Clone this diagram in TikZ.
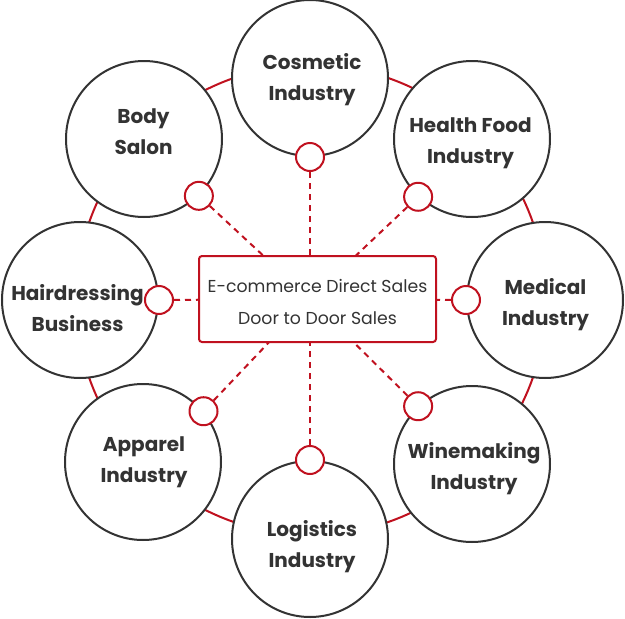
\documentclass[tikz,border=0pt]{standalone}
\usepackage{fontspec}
\setmainfont{Poppins}
\usepackage{xcolor}
\usepackage{tikz}
\usetikzlibrary{positioning}
\definecolor{brickred}{HTML}{C0111F}
\definecolor{inkgray}{HTML}{333333}

\begin{document}
\begin{tikzpicture}[x=1pt, y=-1pt,
        sector/.style={draw=inkgray, line width=2pt, circle, fill=white, minimum size=156pt, inner sep=0pt},
        caption/.style={align=center, text=inkgray, inner sep=0pt, font=\fontsize{20}{31}\selectfont\bfseries},
        dot/.style={draw=brickred, line width=2pt, circle, fill=white, minimum size=28pt, inner sep=0pt},
        link/.style={draw=brickred, line width=2pt, dash pattern=on 6pt off 5pt}]
        \useasboundingbox (0,0) rectangle (625,619);

        % ring behind the circles
        \draw[brickred, line width=2pt] (311,300) circle [radius=235];

        \node (cosmetic) [sector] at (310,78) {};
        \node (health) [sector] at (472,139) {};
        \node (medical) [sector] at (545,300) {};
        \node (wine) [sector] at (472,464) {};
        \node (logistics) [sector] at (310,539) {};
        \node (apparel) [sector] at (143,462) {};
        \node (hair) [sector] at (80,300) {};
        \node (body) [sector] at (144,139) {};

        \node (cosmetictext) [caption] at (312,79.5) {Cosmetic\\Industry};
        \node (healthtext) [caption] at (470.5,143) {Health Food\\Industry};
        \node (medicaltext) [caption] at (545.5,305) {Medical\\Industry};
        \node (winetext) [caption] at (474,469) {Winemaking\\Industry};
        \node (logisticstext) [caption] at (312,546.5) {Logistics\\Industry};
        \node (appareltext) [caption] at (144,462) {Apparel\\Industry};
        \node (hairtext) [caption] at (77.5,308) {Hairdressing\\Business};
        \node (bodytext) [caption] at (143.5,132) {Body\\Salon};

        \node (cosmeticdot) [dot] at (cosmetic.-90) {};
        \node (healthdot) [dot] at (health.-133) {};
        \node (medicaldot) [dot] at (medical.180) {};
        \node (winedot) [dot] at (wine.133) {};
        \node (logisticsdot) [dot] at (logistics.90) {};
        \node (appareldot) [dot] at (apparel.40) {};
        \node (hairdot) [dot] at (hair.0) {};
        \node (bodydot) [dot] at (body.-46) {};

        \coordinate (hub) at (310,299);
        \foreach \s in {cosmetic, health, medical, wine, logistics, apparel, hair, body}
            \draw[link] (\s dot) -- (hub);

        \node (sales) [draw=brickred, line width=2pt, fill=white, rounded corners=3pt, minimum width=237pt, minimum height=86pt, align=center, text=inkgray, font=\fontsize{17.3}{32}\selectfont] at (317.5,299) {\rule{0pt}{19pt}E-commerce Direct Sales\\Door to Door Sales};
    \end{tikzpicture}
\end{document}
